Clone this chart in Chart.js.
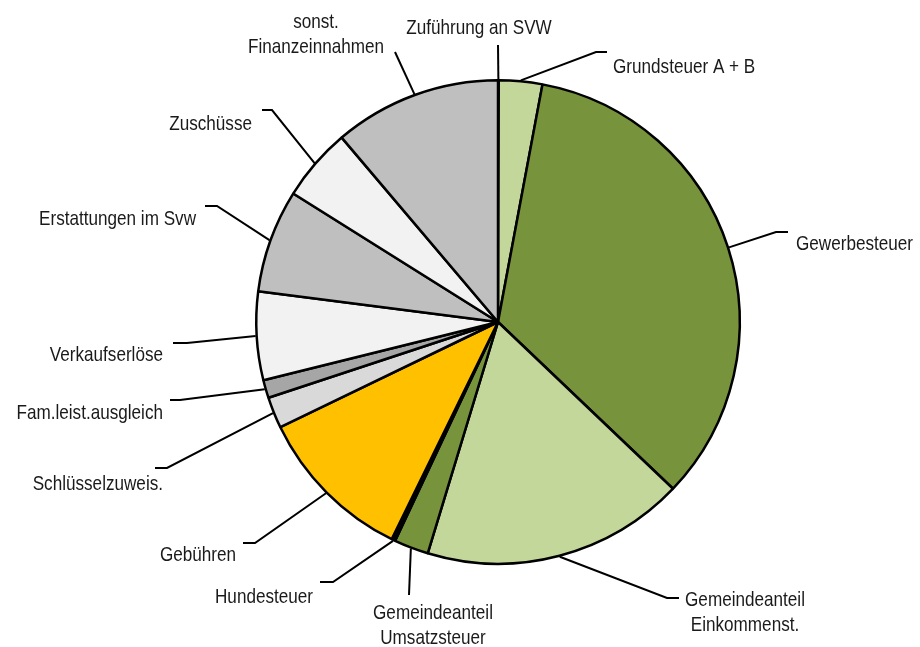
<!DOCTYPE html>
<html>
<head>
<meta charset="utf-8">
<script src="https://cdn.jsdelivr.net/npm/chart.js@4"></script>
<style>
  html, body { margin: 0; padding: 0; background: #fff; }
  #wrap { width: 920px; height: 647px; }
</style>
</head>
<body>
<div id="wrap"><canvas id="kuchen"></canvas></div>
<script>
// Anteile in Prozent (aus dem Bild geschätzt), im Uhrzeigersinn ab 12 Uhr
var kategorien = [
    ['Zuführung an SVW'],
    ['Grundsteuer A + B'],
    ['Gewerbesteuer'],
    ['Gemeindeanteil', 'Einkommenst.'],
    ['Gemeindeanteil', 'Umsatzsteuer'],
    ['Hundesteuer'],
    ['Gebühren'],
    ['Schlüsselzuweis.'],
    ['Fam.leist.ausgleich'],
    ['Verkaufserlöse'],
    ['Erstattungen im Svw'],
    ['Zuschüsse'],
    ['sonst.', 'Finanzeinnahmen']
];
var anteile = [0.05, 2.9, 34.2, 17.6, 2.3, 0.25, 10.6, 2.1, 1.2, 5.9, 6.9, 4.9, 11.2];
var farben = ['#c4d79b', '#c4d79b', '#77933c', '#c4d79b', '#77933c', '#000000',
              '#ffc000', '#d9d9d9', '#a6a6a6', '#f2f2f2', '#bfbfbf', '#f2f2f2', '#bfbfbf'];

// Lage der Beschriftungen: Knick der Führungslinie, Ende des Querstrichs, Textpunkt, Ausrichtung
var beschriftung = [
    { knick: [498, 45],  ende: [498, 45],  text: [479, 28],  align: 'center' },
    { knick: [596, 52],  ende: [607, 52],  text: [613, 67],  align: 'left' },
    { knick: [776, 232], ende: [788, 232], text: [796, 244], align: 'left' },
    { knick: [667, 598], ende: [679, 598], text: [745, 600], align: 'center' },
    { knick: [409, 595], ende: [409, 595], text: [433, 613], align: 'center' },
    { knick: [333, 582], ende: [320, 582], text: [313, 597], align: 'right' },
    { knick: [255, 543], ende: [243, 543], text: [236, 555], align: 'right' },
    { knick: [167, 468], ende: [155, 468], text: [163, 484], align: 'right' },
    { knick: [180, 400], ende: [170, 400], text: [163, 413], align: 'right' },
    { knick: [187, 343], ende: [173, 343], text: [163, 355], align: 'right' },
    { knick: [217, 206], ende: [205, 206], text: [196, 219], align: 'right' },
    { knick: [272, 110], ende: [262, 110], text: [252, 124], align: 'right' },
    { knick: [395, 52],  ende: [395, 52],  text: [316, 22],  align: 'center' }
];

// keine schmale Schrift installiert -> Liberation Sans waagerecht stauchen
var schrift = "21px 'Liberation Sans', Arial, sans-serif";
var stauchung = 0.815;

var fuehrungslinien = {
    id: 'fuehrungslinien',
    afterDraw: function(chart) {
        var ctx = chart.ctx;
        var bogen = chart.getDatasetMeta(0).data;
        bogen.forEach(function(arc, i) {
            var b = beschriftung[i];
            var mitte = (arc.startAngle + arc.endAngle) / 2;
            var r = arc.outerRadius + 1;
            var sx = arc.x + Math.cos(mitte) * r;
            var sy = arc.y + Math.sin(mitte) * r;

            ctx.save();
            ctx.strokeStyle = '#000';
            ctx.lineWidth = 2;
            ctx.beginPath();
            ctx.moveTo(sx, sy);
            ctx.lineTo(b.knick[0], b.knick[1]);
            ctx.lineTo(b.ende[0], b.ende[1]);
            ctx.stroke();

            ctx.fillStyle = '#1a1a1a';
            ctx.font = schrift;
            ctx.textAlign = b.align;
            ctx.textBaseline = 'middle';
            ctx.scale(stauchung, 1);
            kategorien[i].forEach(function(zeile, j) {
                ctx.fillText(zeile, b.text[0] / stauchung, b.text[1] + j * 25);
            });
            ctx.restore();
        });
    }
};

new Chart(document.getElementById('kuchen'), {
    type: 'pie',
    data: {
        labels: kategorien.map(function(k) { return k.join(' '); }),
        datasets: [{
            data: anteile,
            backgroundColor: farben,
            borderColor: '#000',
            borderWidth: 2.5
        }]
    },
    options: {
        responsive: true,
        maintainAspectRatio: false,
        animation: false,
        events: [],
        layout: { padding: { left: 76, right: 0, top: 79, bottom: 82 } },
        plugins: {
            legend: { display: false },
            tooltip: { enabled: false }
        }
    },
    plugins: [fuehrungslinien]
});
</script>
</body>
</html>
